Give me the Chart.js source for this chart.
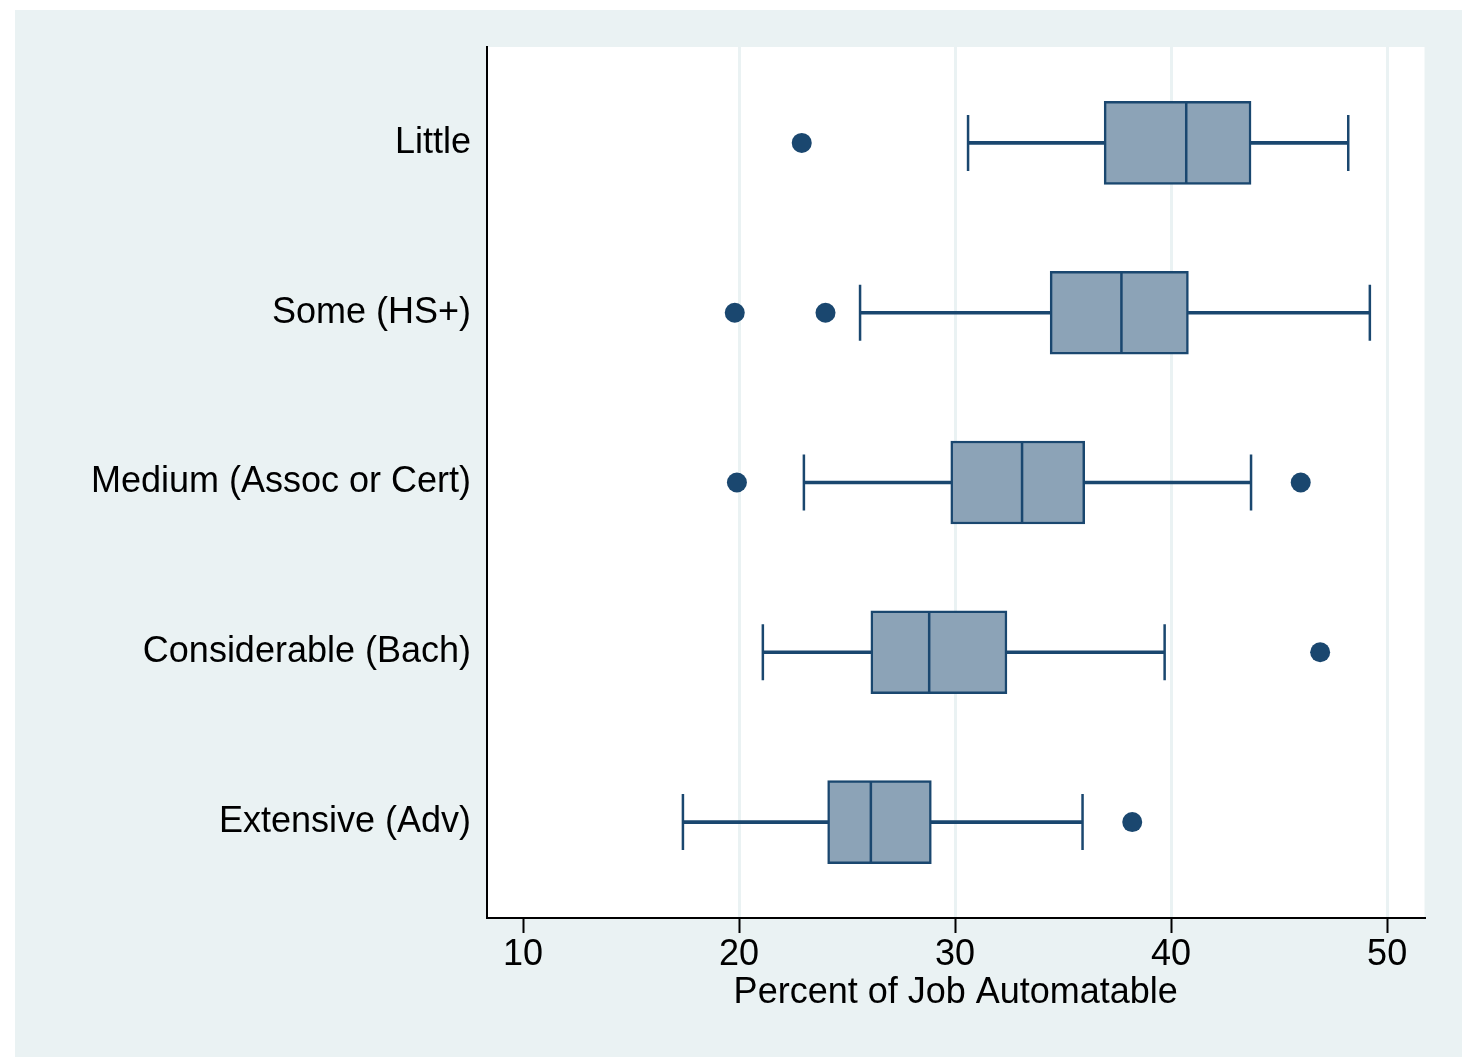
<!DOCTYPE html>
<html>
<head>
<meta charset="utf-8">
<script src="https://cdn.jsdelivr.net/npm/chart.js@4/dist/chart.umd.min.js"></script>
<style>
  html, body { margin: 0; padding: 0; background: #ffffff; overflow: hidden; }
  #wrap { width: 1468px; height: 1057px; position: relative; }
</style>
</head>
<body>
<div id="wrap"><canvas id="box-chart"></canvas></div>
<script>
// skill level categories, top to bottom
var categories = ["Little", "Some (HS+)", "Medium (Assoc or Cert)", "Considerable (Bach)", "Extensive (Adv)"];
var catPos = [1, 2, 3, 4, 5];

// box plot stats (percent of job automatable)
var whiskerLow  = [30.6, 25.6, 23.0, 21.1, 17.4];
var q1          = [36.9, 34.4, 29.8, 26.1, 24.1];
var median      = [40.7, 37.7, 33.1, 28.8, 26.1];
var q3          = [43.7, 40.8, 36.0, 32.4, 28.9];
var whiskerHigh = [48.2, 49.2, 43.7, 39.7, 35.9];

// outside values: [category index, value]
var outliers = [[0, 22.9], [1, 19.8], [1, 24.0], [2, 19.9], [2, 46.0], [3, 46.9], [4, 38.2]];

var xTicks = [10, 20, 30, 40, 50];

var navy = "#1a476f";
var boxFill = "#8ca3b7";
var bgBlue = "#eaf2f3";

// background panels like Stata's s2color
var bgPlugin = {
  id: "bgPanels",
  beforeDraw: function(chart) {
    var ctx = chart.ctx, a = chart.chartArea;
    ctx.save();
    ctx.fillStyle = "#ffffff";
    ctx.fillRect(0, 0, chart.width, chart.height);
    ctx.fillStyle = bgBlue;
    ctx.fillRect(15, 10, 1447, chart.height - 10);
    ctx.fillStyle = "#ffffff";
    ctx.fillRect(a.left, a.top, a.right - a.left, a.bottom - a.top);
    ctx.restore();
  }
};

var boxData = catPos.map(function(p, i) { return {y: p, x: [q1[i], q3[i]]}; });
var lowWhiskerData = catPos.map(function(p, i) { return {y: p, x: [whiskerLow[i], q1[i]]}; });
var highWhiskerData = catPos.map(function(p, i) { return {y: p, x: [q3[i], whiskerHigh[i]]}; });
var medianData = catPos.map(function(p, i) { return {x: median[i], y: p}; });
var capData = [];
catPos.forEach(function(p, i) {
  capData.push({x: whiskerLow[i], y: p});
  capData.push({x: whiskerHigh[i], y: p});
});
var outlierData = outliers.map(function(o) { return {x: o[1], y: catPos[o[0]]}; });

var boxChart = new Chart(document.getElementById("box-chart"), {
  type: "bar",
  data: {
    datasets: [
      {type: "bar", data: lowWhiskerData, backgroundColor: navy, borderWidth: 0, barThickness: 3, grouped: false, order: 6},
      {type: "bar", data: highWhiskerData, backgroundColor: navy, borderWidth: 0, barThickness: 3, grouped: false, order: 6},
      {type: "bar", data: boxData, backgroundColor: boxFill, borderColor: navy, borderWidth: 2.5, borderSkipped: false,
       barThickness: 83, grouped: false, order: 5},
      {type: "scatter", data: medianData, pointStyle: "line", rotation: 90, radius: 41, borderColor: navy, borderWidth: 2.5, order: 2},
      {type: "scatter", data: capData, pointStyle: "line", rotation: 90, radius: 28, borderColor: navy, borderWidth: 2.5, order: 2},
      {type: "scatter", data: outlierData, pointStyle: "circle", radius: 10, backgroundColor: navy, borderWidth: 0, order: 1}
    ]
  },
  options: {
    indexAxis: "y",
    responsive: true,
    maintainAspectRatio: false,
    animation: false,
    layout: {padding: {left: 0, top: 47, right: 43, bottom: 39}},
    plugins: {legend: {display: false}, tooltip: {enabled: false}},
    scales: {
      x: {
        type: "linear",
        min: 8.33,
        max: 51.73,
        offset: false,
        afterBuildTicks: function(s) { s.ticks = xTicks.map(function(v) { return {value: v}; }); },
        afterFit: function(s) { s.height = 100; },
        grid: {
          color: function(c) { return c.tick && c.tick.value === 10 ? "rgba(0,0,0,0)" : bgBlue; },
          lineWidth: 3,
          tickColor: "#000000",
          tickWidth: 2,
          tickLength: 15
        },
        border: {display: true, color: "#000000", width: 2},
        ticks: {color: "#000000", padding: 0, maxRotation: 0, font: {family: "Liberation Sans", size: 36}},
        title: {display: true, text: "Percent of Job Automatable", color: "#000000",
                padding: {top: 0, bottom: 3}, font: {family: "Liberation Sans", size: 36}}
      },
      y: {
        type: "linear",
        reverse: true,
        offset: false,
        min: 0.435,
        max: 5.565,
        afterBuildTicks: function(s) { s.ticks = catPos.map(function(v) { return {value: v}; }); },
        afterFit: function(s) { s.width = 487; },
        grid: {display: false, drawTicks: false},
        border: {display: true, color: "#000000", width: 2},
        ticks: {
          color: "#000000",
          padding: 16,
          font: {family: "Liberation Sans", size: 36},
          callback: function(v) { return categories[v - 1]; }
        }
      }
    }
  },
  plugins: [bgPlugin]
});
</script>
</body>
</html>
